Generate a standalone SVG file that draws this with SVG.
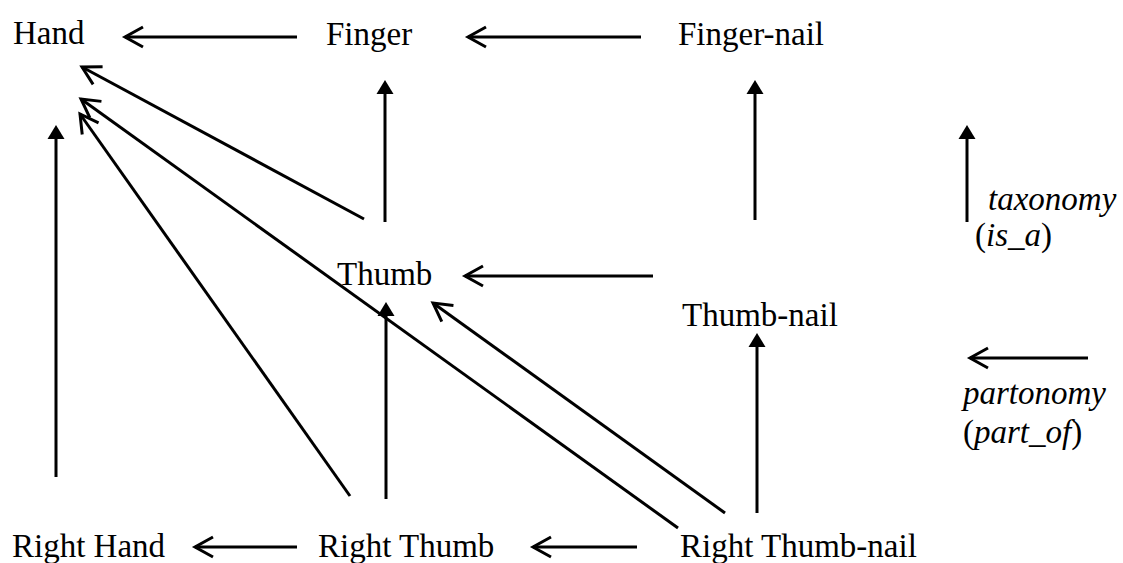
<svg xmlns="http://www.w3.org/2000/svg" width="1123" height="563" viewBox="0 0 1123 563">
<style>
  text { font-family: "Liberation Serif", "Times New Roman", serif; font-size: 33px; fill: #000; }
  .it { font-style: italic; }
  .part { stroke: #000; stroke-width: 3; fill: none; marker-end: url(#open); }
  .tax { stroke: #000; stroke-width: 3; fill: none; marker-end: url(#solid); }
</style>
<defs>
  <marker id="open" markerUnits="userSpaceOnUse" orient="auto" refX="0" refY="0" markerWidth="30" markerHeight="30" overflow="visible">
    <path d="M-18,-10 L0,0 L-18,10" fill="none" stroke="#000" stroke-width="3"/>
  </marker>
  <marker id="solid" markerUnits="userSpaceOnUse" orient="auto" refX="0" refY="0" markerWidth="30" markerHeight="30" overflow="visible">
    <path d="M-10,-8.5 L4,0 L-10,8.5 Z" fill="#000"/>
  </marker>
</defs>
<rect width="1123" height="563" fill="#fff"/>
<g id="connectors">
  <line class="part" x1="297" y1="37" x2="125" y2="37"/>
  <line class="part" x1="641" y1="37" x2="468" y2="37"/>
  <line class="tax" x1="385" y1="222" x2="385" y2="84"/>
  <line class="tax" x1="755" y1="220" x2="755" y2="84"/>
  <line class="part" x1="653" y1="276" x2="465" y2="276"/>
  <line class="part" x1="364" y1="219" x2="82" y2="67"/>
  <line class="tax" x1="56" y1="477" x2="56" y2="129"/>
  <line class="part" x1="350" y1="496" x2="80" y2="114"/>
  <line class="tax" x1="386" y1="499" x2="386" y2="306"/>
  <line class="part" x1="678" y1="528" x2="81" y2="99"/>
  <line class="part" x1="725" y1="513" x2="433" y2="303"/>
  <line class="tax" x1="757" y1="513" x2="757" y2="337"/>
  <line class="part" x1="297" y1="547" x2="195" y2="547"/>
  <line class="part" x1="637" y1="547" x2="533" y2="547"/>
</g>
<g id="legend">
  <line class="tax" x1="967" y1="222" x2="967" y2="129"/>
  <line class="part" x1="1088" y1="358" x2="970" y2="358"/>
  <text class="it" x="988" y="210">taxonomy</text>
  <text x="975" y="246">(<tspan class="it">is_a</tspan>)</text>
  <text class="it" x="963" y="404">partonomy</text>
  <text x="963" y="443">(<tspan class="it">part_of</tspan>)</text>
</g>
<g id="node-hand"><text x="13" y="44">Hand</text></g>
<g id="node-finger"><text x="326" y="45">Finger</text></g>
<g id="node-finger-nail"><text x="678" y="45">Finger-nail</text></g>
<g id="node-thumb"><text x="337" y="285">Thumb</text></g>
<g id="node-thumb-nail"><text x="682" y="326">Thumb-nail</text></g>
<g id="node-right-hand"><text x="12" y="557">Right Hand</text></g>
<g id="node-right-thumb"><text x="318" y="557">Right Thumb</text></g>
<g id="node-right-thumb-nail"><text x="680" y="557">Right Thumb-nail</text></g>
</svg>
